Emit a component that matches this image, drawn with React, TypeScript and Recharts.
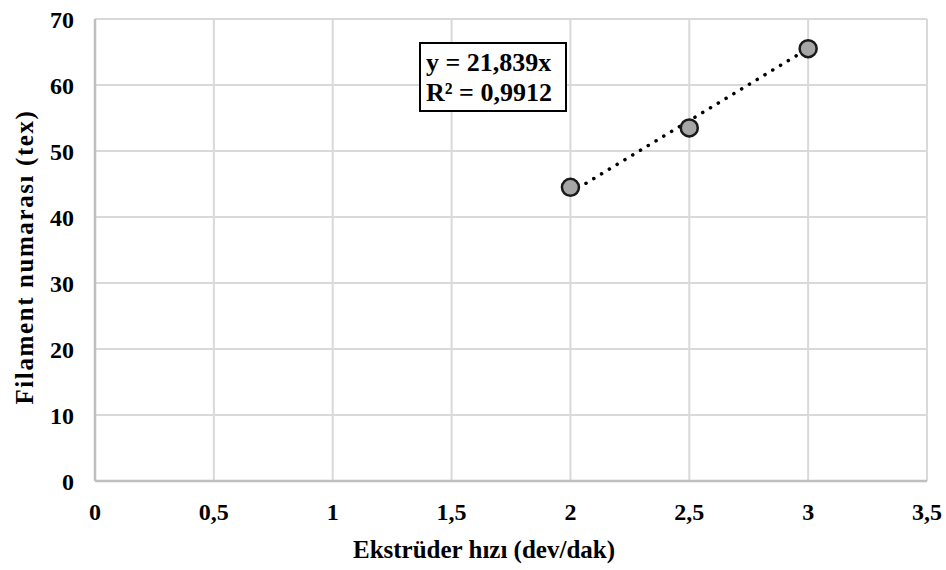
import {
  ComposedChart,
  Scatter,
  Line,
  XAxis,
  YAxis,
  CartesianGrid,
  Label,
} from 'recharts';

// Extruder speed (dev/dak) vs filament count (tex)
const speeds = [2, 2.5, 3];
const filamentTex = [44.5, 53.5, 65.5];

// Linear trendline y = 21,839x, endpoints at x = 2 and x = 3
const trendX = [2, 3];
const trendY = [43.68, 65.52];

const xTicks = [0, 0.5, 1, 1.5, 2, 2.5, 3, 3.5];
const yTicks = [0, 10, 20, 30, 40, 50, 60, 70];

const equationLines = ['y = 21,839x', 'R² = 0,9912'];

const points = speeds.map((x, i) => ({ x, y: filamentTex[i] }));
const trend = trendX.map((x, i) => ({ x, y: trendY[i] }));

const FONT = '"Liberation Serif", "Times New Roman", serif';

// Comma decimal separator, as in the Turkish original.
function formatTick(v: number): string {
  return String(v).replace('.', ',');
}

function Marker(props: any) {
  const { cx, cy } = props;
  if (cx == null || cy == null) return null;
  return <circle cx={cx} cy={cy} r={8.5} fill="#a6a6a6" stroke="#1a1a1a" strokeWidth={2.5} />;
}

// Title under the x axis; sits a bit left of the plot centre like the original.
function XTitle(props: any) {
  const { viewBox } = props;
  const cx = viewBox.x + viewBox.width / 2 - 27;
  return (
    <text x={cx} y={558} textAnchor="middle" fontFamily={FONT} fontWeight={700} fontSize={25} fill="#000">
      Ekstrüder hızı (dev/dak)
    </text>
  );
}

function YTitle(props: any) {
  const { viewBox } = props;
  const cy = viewBox.y + viewBox.height / 2 + 7;
  return (
    <text
      x={33}
      y={cy}
      transform={`rotate(-90, 33, ${cy})`}
      textAnchor="middle"
      fontFamily={FONT}
      fontWeight={700}
      fontSize={25}
      letterSpacing={1.6}
      fill="#000"
    >
      Filament numarası (tex)
    </text>
  );
}

export default function App() {
  const tickStyle = { fontSize: 24, fontWeight: 700, fill: '#000', fontFamily: FONT };
  return (
    <div style={{ position: 'absolute', left: 0, top: 0, width: 946, height: 570, background: '#fff' }}>
      <ComposedChart
        width={946}
        height={570}
        margin={{ top: 19, right: 19, left: 35, bottom: 29 }}
      >
        <CartesianGrid stroke="#d9d9d9" strokeWidth={2} />
        <XAxis
          type="number"
          dataKey="x"
          domain={[0, 3.5]}
          ticks={xTicks}
          tickFormatter={formatTick}
          tick={tickStyle}
          tickLine={false}
          tickSize={0}
          tickMargin={22}
          height={60}
          axisLine={{ stroke: '#bfbfbf', strokeWidth: 2.5 }}
          allowDataOverflow
        >
          <Label content={<XTitle />} />
        </XAxis>
        <YAxis
          type="number"
          domain={[0, 70]}
          ticks={yTicks}
          tick={tickStyle}
          tickLine={false}
          tickSize={0}
          tickMargin={21}
          width={60}
          axisLine={{ stroke: '#bfbfbf', strokeWidth: 2.5 }}
        >
          <Label content={<YTitle />} />
        </YAxis>
        <Line
          data={trend}
          dataKey="y"
          type="linear"
          stroke="#000"
          strokeWidth={3.5}
          strokeDasharray="0.1 9"
          strokeLinecap="round"
          dot={false}
          activeDot={false}
          isAnimationActive={false}
        />
        <Scatter data={points} dataKey="y" shape={<Marker />} isAnimationActive={false} />
      </ComposedChart>
      <div
        style={{
          position: 'absolute',
          left: 419,
          top: 42,
          width: 148,
          height: 70,
          border: '2px solid #000',
          background: '#fff',
          fontFamily: FONT,
          fontWeight: 700,
          fontSize: 26,
          lineHeight: '30px',
          padding: '4px 0 0 5px',
          boxSizing: 'border-box',
          color: '#000',
          whiteSpace: 'nowrap',
        }}
      >
        {equationLines.map((t) => (
          <div key={t}>{t}</div>
        ))}
      </div>
    </div>
  );
}
